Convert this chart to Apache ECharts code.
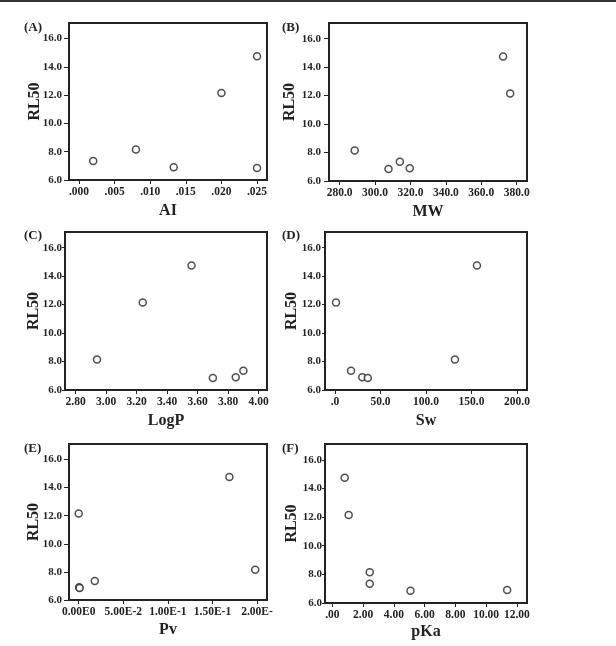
<!DOCTYPE html>
<html>
<head>
<meta charset="utf-8">
<script src="https://cdn.jsdelivr.net/npm/echarts@6/dist/echarts.min.js"></script>
<style>html,body{margin:0;padding:0;background:#fff}#c{width:616px;height:646px}</style>
</head>
<body>
<div id="c"></div>
<script>
// RL50 values (same compounds across panels)
const rl50 = [14.75, 12.15, 8.15, 7.35, 6.9, 6.85];
const aiVals   = [0.025, 0.020, 0.008, 0.002, 0.0133, 0.025];
const mwVals   = [372.3, 376.3, 288.5, 314.0, 319.6, 307.6];
const logpVals = [3.56, 3.24, 2.94, 3.90, 3.85, 3.70];
const swVals   = [156.0, 1.1, 131.8, 17.6, 30.0, 36.0];
const pvVals   = [0.169, 0.0, 0.198, 0.018, 0.0005, 0.001];
const pkaVals  = [0.80, 1.06, 2.43, 2.43, 11.37, 5.08];

const yTicks = [6, 8, 10, 12, 14, 16];
const aiTicks = [0, 0.005, 0.010, 0.015, 0.020, 0.025];
const mwTicks = [280, 300, 320, 340, 360, 380];
const logpTicks = [2.8, 3.0, 3.2, 3.4, 3.6, 3.8, 4.0];
const swTicks = [0, 50, 100, 150, 200];
const pvTicks = [0, 0.05, 0.10, 0.15, 0.20];
const pvTickLabels = ['0.00E0', '5.00E-2', '1.00E-1', '1.50E-1', '2.00E-'];
const pkaTicks = [0, 2, 4, 6, 8, 10, 12];

const panelLabels = ['(A)', '(B)', '(C)', '(D)', '(E)', '(F)'];
const xNames = ['AI', 'MW', 'LogP', 'Sw', 'Pv', 'pKa'];

const FONT = '"Liberation Serif", "Times New Roman", serif';
const INK = '#222';

const grids = [
  {left: 69, top: 23, width: 198, height: 157},
  {left: 329, top: 23, width: 198, height: 158},
  {left: 65, top: 232, width: 202, height: 158},
  {left: 325, top: 232, width: 202, height: 158},
  {left: 69, top: 444, width: 198, height: 156},
  {left: 325, top: 444, width: 202, height: 159}
];
const nameGapsY = [26, 31, 23, 25, 27, 25];
const nameGapsX = [23, 23, 23, 23, 22, 21];
const yLabelMargins = [7, 8, 3, 4, 7, 3];
const yTickLens = [5, 5, 3, 3, 5, 3];

const xSpecs = [
  {vals: aiVals, min: -0.0014, max: 0.0264, ticks: aiTicks, fmt: v => v.toFixed(3).replace(/^0/, '')},
  {vals: mwVals, min: 274, max: 385.8, ticks: mwTicks, fmt: v => v.toFixed(1)},
  {vals: logpVals, min: 2.73, max: 4.055, ticks: logpTicks, fmt: v => v.toFixed(2)},
  {vals: swVals, min: -11, max: 211, ticks: swTicks, fmt: v => v.toFixed(1).replace(/^0/, '')},
  {vals: pvVals, min: -0.0109, max: 0.2112, ticks: pvTicks, fmt: v => { const i = pvTicks.findIndex(t => Math.abs(t - v) < 1e-9); return i >= 0 ? pvTickLabels[i] : ''; }},
  {vals: pkaVals, min: -0.48, max: 12.66, ticks: pkaTicks, fmt: v => v.toFixed(2).replace(/^0/, '')}
];

const option = {
  backgroundColor: '#fff',
  animation: false,
  title: panelLabels.map((t, i) => ({
    text: t,
    left: [24, 282, 24, 282, 24, 282][i],
    top: [21, 21, 229, 229, 442, 442][i],
    textStyle: {fontFamily: FONT, fontWeight: 'bold', fontSize: 13, color: INK},
    padding: 0
  })),
  graphic: [{type: 'rect', shape: {x: 0, y: 0, width: 616, height: 2}, style: {fill: '#333'}}],
  grid: grids.map(g => Object.assign({show: true, borderColor: INK, borderWidth: 2, backgroundColor: '#fff'}, g)),
  xAxis: xSpecs.map((s, i) => ({
    type: 'value', gridIndex: i, min: s.min, max: s.max,
    name: xNames[i], nameLocation: 'middle', nameGap: nameGapsX[i], nameMoveOverlap: false,
    nameTextStyle: {fontFamily: FONT, fontWeight: 'bold', fontSize: 16, color: INK},
    splitLine: {show: false},
    axisLine: {show: true, onZero: false, lineStyle: {color: INK, width: 2}},
    axisTick: {show: true, length: 4, lineStyle: {color: INK, width: 1}, customValues: s.ticks},
    axisLabel: {customValues: s.ticks, formatter: s.fmt, margin: 6, fontFamily: FONT, fontWeight: 'bold', fontSize: 11.5, color: INK}
  })),
  yAxis: grids.map((g, i) => ({
    type: 'value', gridIndex: i, min: 6, max: 17.1,
    name: 'RL50', nameLocation: 'middle', nameGap: nameGapsY[i], nameRotate: 90, nameMoveOverlap: false,
    nameTextStyle: {fontFamily: FONT, fontWeight: 'bold', fontSize: 16, color: INK},
    splitLine: {show: false},
    axisLine: {show: true, onZero: false, lineStyle: {color: INK, width: 2}},
    axisTick: {show: true, length: yTickLens[i], lineStyle: {color: INK, width: 1}, customValues: yTicks},
    axisLabel: {customValues: yTicks, formatter: v => v.toFixed(1), margin: yLabelMargins[i], fontFamily: FONT, fontWeight: 'bold', fontSize: 11, color: INK}
  })),
  series: xSpecs.map((s, i) => ({
    type: 'scatter', xAxisIndex: i, yAxisIndex: i,
    symbol: 'circle', symbolSize: 7,
    itemStyle: {color: '#fff', borderColor: INK, borderWidth: 1.5},
    data: s.vals.map((x, k) => [x, rl50[k]])
  }))
};

const chart = echarts.init(document.getElementById('c'), null, {renderer: 'canvas'});
chart.setOption(option);
</script>
</body>
</html>
